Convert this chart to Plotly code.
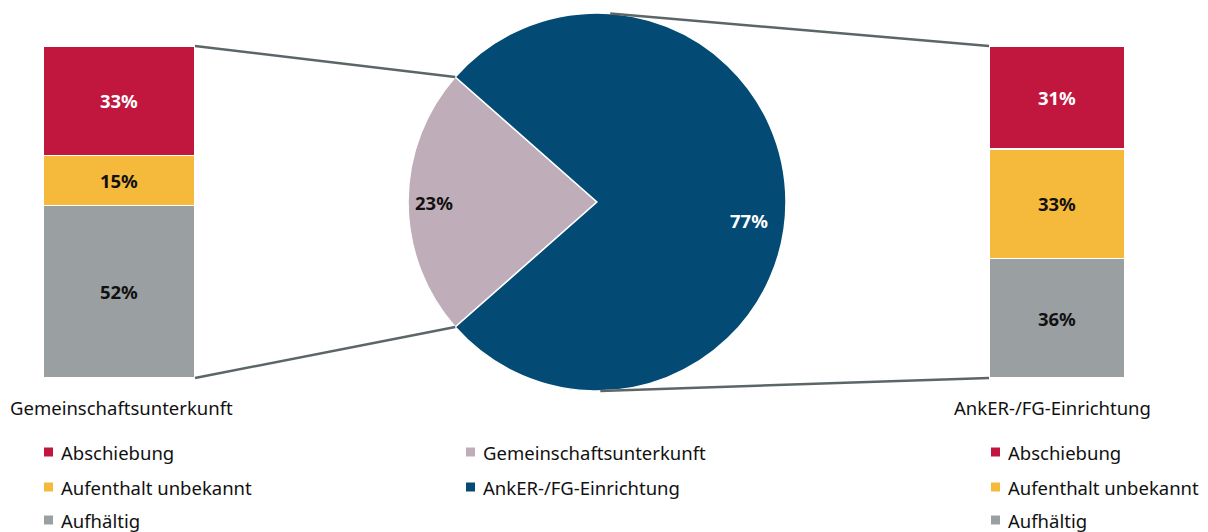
import math
import plotly.graph_objects as go

# Daten
pie_labels = ["Gemeinschaftsunterkunft", "AnkER-/FG-Einrichtung"]
pie_values = [23, 77]

bar_categories = ["Abschiebung", "Aufenthalt unbekannt", "Aufhältig"]
gu_values = [33, 15, 52]        # Gemeinschaftsunterkunft
anker_values = [31, 33, 36]     # AnkER-/FG-Einrichtung

# Farben
BAR_COLORS = {"Abschiebung": "#C1163D", "Aufenthalt unbekannt": "#F5BA3B", "Aufhältig": "#9A9FA2"}
BAR_TEXT = {"Abschiebung": "white", "Aufenthalt unbekannt": "#111111", "Aufhältig": "#111111"}
PIE_COLORS = ["#BFAEBA", "#034B74"]
LINE_COLOR = "#5C6668"
FONT = "Noto Sans"
FS = 18.5

# Seite hat 8px Rand -> Figur etwas kleiner und Koordinaten verschoben
OFF = 8
W, H = 1200, 524


def px(x):
    return (x - OFF) / W


def py(y):
    return 1 - (y - OFF) / H


# Geometrie (Bildschirm-Pixel)
CX, CY, R = 597, 202, 189
LEFT_BAR = (43, 195)
RIGHT_BAR = (989, 1125)
BAR_TOP, BAR_BOTTOM = 46, 378

fig = go.Figure()

# Kreisdiagramm: erstes Segment links zentriert
half = pie_values[0] / sum(pie_values) * 180
rotation = 270 - half
fig.add_trace(go.Pie(
    labels=pie_labels,
    values=pie_values,
    sort=False,
    direction="clockwise",
    rotation=rotation,
    marker=dict(colors=PIE_COLORS, line=dict(color="white", width=1.5)),
    textinfo="none",
    hoverinfo="label+percent",
    showlegend=False,
    domain=dict(x=[px(CX - R), px(CX + R)], y=[py(CY + R), py(CY - R)]),
))

# Gestapelte Balken (von unten nach oben stapeln)
for i in reversed(range(len(bar_categories))):
    cat = bar_categories[i]
    for vals, xa, ya in [(gu_values, "x", "y"), (anker_values, "x2", "y2")]:
        fig.add_trace(go.Bar(
            x=[0],
            y=[vals[i]],
            width=1,
            name=cat,
            marker=dict(color=BAR_COLORS[cat], line=dict(color="white", width=1.5)),
            text=[f"{vals[i]}%"],
            textposition="inside",
            insidetextanchor="middle",
            textangle=0,
            constraintext="none",
            textfont=dict(family=FONT, size=FS, color=BAR_TEXT[cat], weight="bold"),
            showlegend=False,
            xaxis=xa,
            yaxis=ya,
        ))

axis_common = dict(visible=False, fixedrange=True)
fig.update_layout(
    barmode="stack",
    xaxis=dict(domain=[px(LEFT_BAR[0]), px(LEFT_BAR[1])], range=[-0.5, 0.5], anchor="y", **axis_common),
    yaxis=dict(domain=[py(BAR_BOTTOM), py(BAR_TOP)], range=[0, 100], anchor="x", **axis_common),
    xaxis2=dict(domain=[px(RIGHT_BAR[0]), px(RIGHT_BAR[1])], range=[-0.5, 0.5], anchor="y2", **axis_common),
    yaxis2=dict(domain=[py(BAR_BOTTOM), py(BAR_TOP)], range=[0, 100], anchor="x2", **axis_common),
)

# Prozentangaben im Kreis
shares = [v / sum(pie_values) for v in pie_values]
start = rotation
label_pos = [(0.86, 0, "#111111"), (0.81, 7, "white")]
for share, lab_val, (rf, dang, col) in zip(shares, pie_values, label_pos):
    mid = start + share * 180 + dang
    start += share * 360
    a = math.radians(mid)
    fig.add_annotation(
        x=px(CX + rf * R * math.sin(a)), y=py(CY - rf * R * math.cos(a)),
        xref="paper", yref="paper", text=f"<b>{lab_val}%</b>", showarrow=False,
        font=dict(family=FONT, size=FS, color=col),
    )


def circle_point(angle_deg):
    a = math.radians(angle_deg)
    return CX + R * math.sin(a), CY - R * math.cos(a)


# Verbindungslinien
upper_edge = circle_point(rotation + pie_values[0] / sum(pie_values) * 360)
lower_edge = circle_point(rotation)
connectors = [
    ((LEFT_BAR[1], BAR_TOP), upper_edge),
    ((LEFT_BAR[1], BAR_BOTTOM), lower_edge),
    (circle_point(4), (RIGHT_BAR[0], BAR_TOP)),
    (circle_point(179), (RIGHT_BAR[0], BAR_BOTTOM)),
]
for (x0, y0), (x1, y1) in connectors:
    fig.add_shape(type="line", xref="paper", yref="paper",
                  x0=px(x0), y0=py(y0), x1=px(x1), y1=py(y1),
                  line=dict(color=LINE_COLOR, width=2.5))

# Balkenbeschriftungen
for text, x in [(pie_labels[0], 8), (pie_labels[1], 952)]:
    fig.add_annotation(x=px(x), y=py(407), xref="paper", yref="paper", text=text,
                       showarrow=False, xanchor="left", yanchor="middle",
                       font=dict(family=FONT, size=FS, color="#111111"))

# Legenden (manuell)
ROW_Y = [452, 487, 520]
SQ = 9
legend_cols = [
    (44, bar_categories, [BAR_COLORS[c] for c in bar_categories]),
    (466, pie_labels, PIE_COLORS),
    (991, bar_categories, [BAR_COLORS[c] for c in bar_categories]),
]
for x0, names, cols in legend_cols:
    for name, col, y in zip(names, cols, ROW_Y):
        fig.add_shape(type="rect", xref="paper", yref="paper",
                      x0=px(x0), x1=px(x0 + SQ), y0=py(y + SQ / 2), y1=py(y - SQ / 2),
                      fillcolor=col, line=dict(width=0))
        fig.add_annotation(x=px(x0 + SQ + 6), y=py(y), xref="paper", yref="paper", text=name,
                           showarrow=False, xanchor="left", yanchor="middle",
                           font=dict(family=FONT, size=FS, color="#111111"))

fig.update_layout(
    width=W,
    height=H,
    margin=dict(l=0, r=0, t=0, b=0),
    paper_bgcolor="white",
    plot_bgcolor="white",
    font=dict(family=FONT, size=FS, color="#111111"),
    showlegend=False,
)

fig.write_html("out.html")
